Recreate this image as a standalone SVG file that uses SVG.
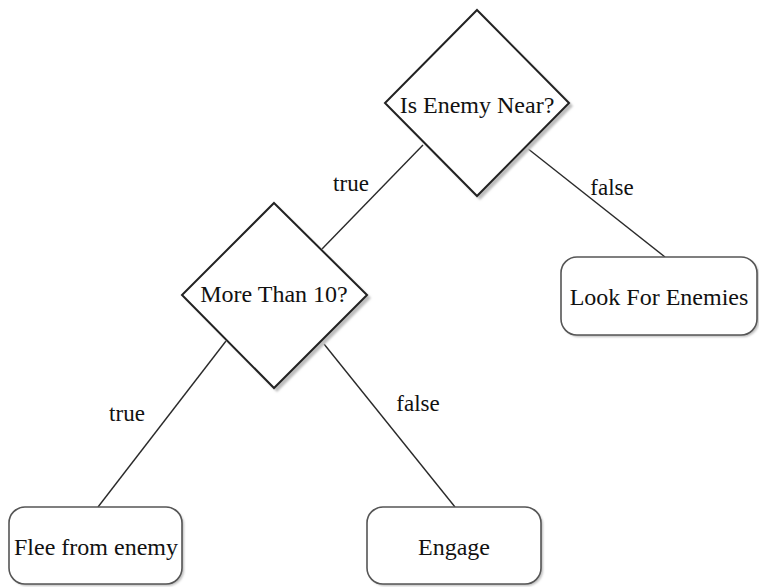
<svg xmlns="http://www.w3.org/2000/svg" width="759" height="587" viewBox="0 0 759 587">
  <style>
    .diamond { fill: #ffffff; stroke: #222222; stroke-width: 2; stroke-linejoin: miter; }
    .box { fill: #ffffff; stroke: #555555; stroke-width: 1.6; }
    .shadow { fill: #bdbdbd; stroke: none; }
    .edge { stroke: #2a2a2a; stroke-width: 1.4; fill: none; }
    .label { font-family: "Liberation Serif", "Times New Roman", serif; font-size: 24px; fill: #111111; text-anchor: middle; }
    .elabel { font-family: "Liberation Serif", "Times New Roman", serif; font-size: 23px; fill: #111111; text-anchor: middle; }
  </style>
  <defs>
    <filter id="soft" x="-10%" y="-10%" width="130%" height="130%">
      <feGaussianBlur stdDeviation="1"/>
    </filter>
  </defs>
  <rect width="759" height="587" fill="#ffffff"/>

  <!-- connectors -->
  <g id="connectors">
    <line class="edge" x1="423" y1="145" x2="322" y2="249"/>
    <line class="edge" x1="527" y1="148" x2="665" y2="257"/>
    <line class="edge" x1="226" y1="341" x2="98" y2="507"/>
    <line class="edge" x1="324" y1="344" x2="455" y2="507"/>
    <text class="elabel" x="351" y="191">true</text>
    <text class="elabel" x="612" y="195">false</text>
    <text class="elabel" x="127" y="421">true</text>
    <text class="elabel" x="418" y="411">false</text>
  </g>

  <!-- decision: is enemy near -->
  <g id="is-enemy-near">
    <polygon class="shadow" filter="url(#soft)" points="480,13 573,106 480,200 388,106"/>
    <polygon class="diamond" points="477,10 569,103 477,196 385,103"/>
    <text class="label" x="477" y="113">Is Enemy Near?</text>
  </g>

  <!-- decision: more than 10 -->
  <g id="more-than-10">
    <polygon class="shadow" filter="url(#soft)" points="277,206 371,298 277,392 185,298"/>
    <polygon class="diamond" points="274,203 367,295 274,388 182,295"/>
    <text class="label" x="274" y="302">More Than 10?</text>
  </g>

  <!-- action: look for enemies -->
  <g id="look-for-enemies">
    <rect class="shadow" filter="url(#soft)" x="563" y="259" width="196" height="78" rx="16"/>
    <rect class="box" x="561" y="257" width="196" height="78" rx="16"/>
    <text class="label" x="659" y="305">Look For Enemies</text>
  </g>

  <!-- action: flee -->
  <g id="flee-from-enemy">
    <rect class="shadow" filter="url(#soft)" x="11" y="509" width="173" height="77" rx="16"/>
    <rect class="box" x="9" y="507" width="173" height="77" rx="16"/>
    <text class="label" x="96" y="555">Flee from enemy</text>
  </g>

  <!-- action: engage -->
  <g id="engage">
    <rect class="shadow" filter="url(#soft)" x="369" y="509" width="174" height="77" rx="16"/>
    <rect class="box" x="367" y="507" width="174" height="77" rx="16"/>
    <text class="label" x="454" y="555">Engage</text>
  </g>
</svg>
